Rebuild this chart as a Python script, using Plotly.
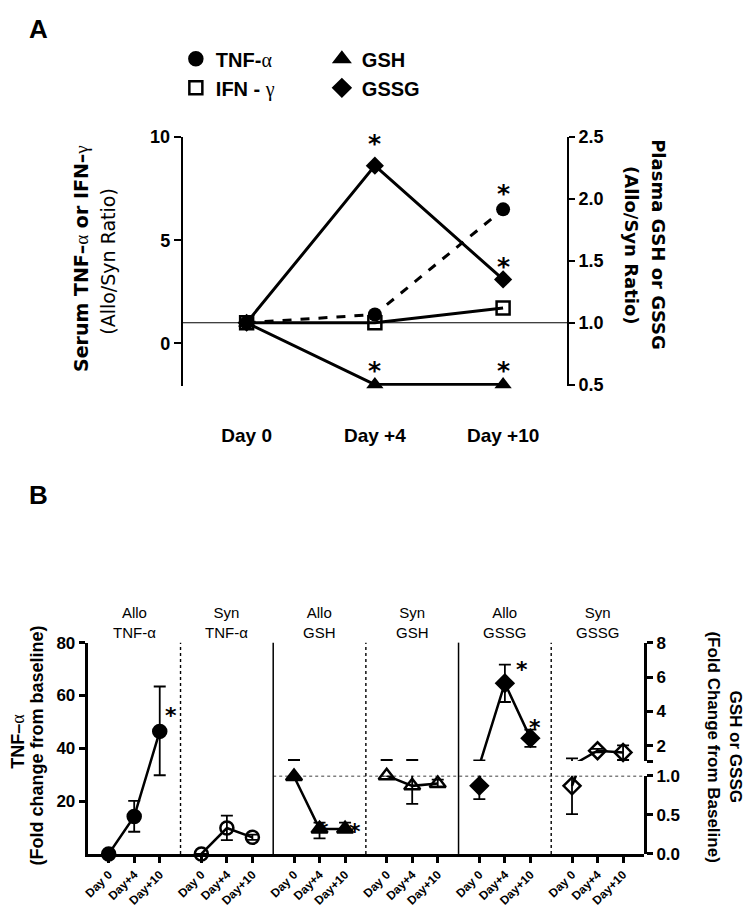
import plotly.graph_objects as go

# ---------------- Panel A: Allo/Syn ratio ----------------
days_a = ["Day 0", "Day +4", "Day +10"]
tnf_ratio = [1.0, 1.4, 6.5]
ifn_ratio = [1.0, 1.0, 1.72]
gsh_ratio = [1.0, 0.5, 0.5]
gssg_ratio = [1.0, 2.27, 1.35]
# significance marks in panel A: (series, day index)
stars_a = [("GSSG", 1), ("TNF", 2), ("GSSG", 2), ("GSH", 1), ("GSH", 2)]

# ---------------- Panel B: fold change from baseline ----------------
days_b = ["Day 0", "Day+4", "Day+10"]
group_titles = ["Allo<br>TNF-α", "Syn<br>TNF-α", "Allo<br>GSH",
                "Syn<br>GSH", "Allo<br>GSSG", "Syn<br>GSSG"]

allo_tnf = [0.0, 14.2, 46.4]
allo_tnf_hi = [0.0, 20.1, 63.4]
allo_tnf_lo = [0.0, 8.4, 29.8]
syn_tnf = [0.0, 9.8, 6.3]
syn_tnf_hi = [0.0, 14.5, 7.3]
syn_tnf_lo = [0.0, 5.2, 5.3]

allo_gsh = [0.99, 0.32, 0.32]
allo_gsh_hi = [1.18, 0.40, 0.40]
allo_gsh_lo = [0.99, 0.20, 0.32]
syn_gsh = [1.0, 0.87, 0.90]
syn_gsh_hi = [1.18, 1.18, 0.95]
syn_gsh_lo = [1.0, 0.64, 0.86]

allo_gssg = [0.87, 5.64, 2.45]
allo_gssg_hi = [1.15, 6.72, 2.94]
allo_gssg_lo = [0.70, 4.55, 1.94]
syn_gssg = [0.87, 1.72, 1.62]
syn_gssg_hi = [1.27, 1.82, 2.03]
syn_gssg_lo = [0.51, 1.62, 1.18]

# significance marks in panel B: (group index, day index)
stars_b = [(0, 2), (2, 1), (2, 2), (4, 1), (4, 2)]

# ---------------- layout helpers ----------------
W, H = 748, 920


def px(x):
    return x / W


def py(y):
    return 1 - y / H


ARIAL = "Liberation Sans, Arial, sans-serif"
VERD = "DejaVu Sans, Verdana, sans-serif"


def greek(ch):
    return '<span style="font-family:Liberation Serif;font-weight:normal">' + ch + '</span>'


def label(x, y, text, size, angle=0, family=ARIAL):
    return dict(x=px(x), y=py(y), xref="paper", yref="paper", text=text, textangle=angle,
                showarrow=False, xanchor="center", yanchor="middle",
                font=dict(family=family, size=size, color="black"))


fig = go.Figure()

# ---------------- Panel A traces ----------------
xa = [0, 1, 2]
fig.add_trace(go.Scatter(x=xa, y=tnf_ratio, xaxis="x", yaxis="y", mode="lines+markers",
                         line=dict(color="black", width=3, dash="dash"),
                         marker=dict(symbol="circle", size=14, color="black"),
                         cliponaxis=False, showlegend=False))
fig.add_trace(go.Scatter(x=xa, y=ifn_ratio, xaxis="x", yaxis="y", mode="lines+markers",
                         line=dict(color="black", width=3),
                         marker=dict(symbol="square-open", size=13, color="black",
                                     line=dict(width=2.5, color="black")),
                         cliponaxis=False, showlegend=False))
fig.add_trace(go.Scatter(x=xa, y=gsh_ratio, xaxis="x", yaxis="y2", mode="lines+markers",
                         line=dict(color="black", width=3),
                         marker=dict(symbol="triangle-up", size=15, color="black"),
                         cliponaxis=False, showlegend=False))
fig.add_trace(go.Scatter(x=xa, y=gssg_ratio, xaxis="x", yaxis="y2", mode="lines+markers",
                         line=dict(color="black", width=3),
                         marker=dict(symbol="diamond", size=14, color="black"),
                         cliponaxis=False, showlegend=False))

# legend entries (markers only, as in the original)
legend_items = [
    ("<b>TNF-</b>" + greek("α"), "circle", "legend"),
    ("<b>IFN - </b>" + greek("γ"), "square-open", "legend"),
    ("<b>GSH</b>", "triangle-up", "legend2"),
    ("<b>GSSG</b>", "diamond", "legend2"),
]
for i, (name, sym, lg) in enumerate(legend_items):
    fig.add_trace(go.Scatter(x=[None], y=[None], xaxis="x", yaxis="y", mode="markers", name=name,
                             marker=dict(symbol=sym, size=13, color="black",
                                         line=dict(width=2.5, color="black")),
                             legend=lg, legendgroup="g%d" % i))

ratio_of = {"TNF": (tnf_ratio, "y"), "IFN": (ifn_ratio, "y"),
            "GSH": (gsh_ratio, "y2"), "GSSG": (gssg_ratio, "y2")}
star_lift_a = [22, 16, 13, 14, 14]

annotations = []
for (s, d), lift in zip(stars_a, star_lift_a):
    vals, yax = ratio_of[s]
    annotations.append(dict(x=d, y=vals[d], xref="x", yref=yax, text="<b>*</b>", showarrow=False,
                            font=dict(family=VERD, size=25, color="black"), yshift=lift))

# ---------------- Panel B traces ----------------
step = 3.63
series_b = [(allo_tnf, allo_tnf_hi, allo_tnf_lo), (syn_tnf, syn_tnf_hi, syn_tnf_lo),
            (allo_gsh, allo_gsh_hi, allo_gsh_lo), (syn_gsh, syn_gsh_hi, syn_gsh_lo),
            (allo_gssg, allo_gssg_hi, allo_gssg_lo), (syn_gssg, syn_gssg_hi, syn_gssg_lo)]
symbols_b = ["circle", "circle-open", "triangle-up", "triangle-up-open", "diamond", "diamond-open"]
sizes_b = [13, 13, 14, 14, 13, 13]
right_axis = [False, False, True, True, True, True]

LOW_RANGE = [0, 1]
HIGH_RANGE = [1.12, 8]

xb_all = []
for g, (vals, hi, lo) in enumerate(series_b):
    xs = [g * step + i for i in range(3)]
    xb_all += xs
    err = dict(type="data", symmetric=False,
               array=[h - v for h, v in zip(hi, vals)],
               arrayminus=[v - l for v, l in zip(vals, lo)],
               color="black", thickness=1.8, width=6)
    mk = dict(symbol=symbols_b[g], size=sizes_b[g], color="black",
              line=dict(width=2.5, color="black"))
    if not right_axis[g]:
        fig.add_trace(go.Scatter(x=xs, y=vals, xaxis="x2", yaxis="y3", mode="lines+markers",
                                 line=dict(color="black", width=2.5), marker=mk, error_y=err,
                                 cliponaxis=False, showlegend=False))
    else:
        # broken right axis: lines/error bars clipped inside each segment
        for yax in ("y4", "y5"):
            fig.add_trace(go.Scatter(x=xs, y=vals, xaxis="x2", yaxis=yax, mode="lines",
                                     line=dict(color="black", width=2.5), error_y=err,
                                     showlegend=False))
        low = [v if v <= 1.0 else None for v in vals]
        high = [v if v > 1.0 else None for v in vals]
        fig.add_trace(go.Scatter(x=xs, y=low, xaxis="x2", yaxis="y6", mode="markers",
                                 marker=mk, cliponaxis=False, showlegend=False))
        fig.add_trace(go.Scatter(x=xs, y=high, xaxis="x2", yaxis="y7", mode="markers",
                                 marker=mk, cliponaxis=False, showlegend=False))

# asterisks for panel B: pixel offsets from the point
star_shift_b = [(11, 16), (3, -2), (10, -3), (17, 14), (5, 11)]
for (g, d), (dx, dy) in zip(stars_b, star_shift_b):
    v = series_b[g][0][d]
    if not right_axis[g]:
        yax = "y3"
    else:
        yax = "y4" if v <= 1.0 else "y5"
    annotations.append(dict(x=g * step + d, y=v, xref="x2", yref=yax, text="<b>*</b>",
                            showarrow=False, font=dict(family=VERD, size=22, color="black"),
                            xshift=dx, yshift=dy))

# group titles
for g, t in enumerate(group_titles):
    annotations.append(dict(x=g * step + 1, y=py(646.7), xref="x2", yref="paper", text=t,
                            showarrow=False, xanchor="center", yanchor="bottom", yshift=0,
                            font=dict(family=ARIAL, size=15, color="black")))

# separators between groups
shapes = []
seps = [g * step + 2 + (step - 2) / 2 for g in range(5)]
for g, sx in enumerate(seps):
    shapes.append(dict(type="line", xref="x2", yref="y3 domain", x0=sx, x1=sx, y0=0, y1=1,
                       line=dict(color="black", width=1.5 if g in (1, 3) else 1.4,
                                 dash="solid" if g in (1, 3) else "dot")))
xb_max = 5 * step + 2 + 0.82
shapes.append(dict(type="line", xref="x2", yref="y4", x0=seps[1], x1=xb_max, y0=1, y1=1,
                   line=dict(color="black", width=1.4, dash="dot")))
# panel A baseline at ratio 1.0
shapes.append(dict(type="line", xref="x domain", yref="y2", x0=0, x1=1, y0=1, y1=1,
                   line=dict(color="black", width=1)))

# axis titles and panel letters
annotations += [
    label(34, 19, "<b>A</b>", 26),
    label(34, 496, "<b>B</b>", 26),
    label(77, 254, "<b>Serum TNF–</b>" + greek("α") + "<b> or IFN–</b>" + greek("γ"), 19, -90, VERD),
    label(104, 257, "(Allo/Syn Ratio)", 19, -90, VERD),
    label(658, 240, "<b>Plasma GSH or GSSG</b>", 18, 90, VERD),
    label(630, 241, "<b>(Allo/Syn Ratio)</b>", 18, 90, VERD),
    label(13, 747, "<b>TNF–</b>" + greek("α"), 18, -90),
    label(32, 752, "<b>(Fold change from baseline)</b>", 18, -90),
    label(735, 753, "<b>GSH or GSSG</b>", 17, 90),
    label(713, 753, "<b>(Fold Change from Baseline)</b>", 17, 90),
]

tick_a = dict(family=ARIAL, size=18, color="black", weight="bold")
tick_b = dict(family=ARIAL, size=17, color="black", weight="bold")
common = dict(showgrid=False, zeroline=False, linecolor="black", tickcolor="black")

fig.update_layout(
    width=W, height=H, margin=dict(l=0, r=0, t=0, b=0),
    paper_bgcolor="white", plot_bgcolor="rgba(0,0,0,0)",
    annotations=annotations, shapes=shapes,
    legend=dict(x=px(172), y=py(30), xanchor="left", yanchor="top", bgcolor="rgba(0,0,0,0)",
                font=dict(family=ARIAL, size=20, color="black"), tracegroupgap=0),
    legend2=dict(x=px(319), y=py(30), xanchor="left", yanchor="top", bgcolor="rgba(0,0,0,0)",
                 font=dict(family=ARIAL, size=20, color="black"), tracegroupgap=0),
    # panel A (ranges padded a hair so the GSH line at 0.5 is not clipped)
    xaxis=dict(domain=[px(178.7), px(566)], anchor="y", range=[-0.5, 2.5], tickvals=xa,
               ticktext=days_a, showline=False, ticks="", ticklabelstandoff=36,
               tickfont=dict(family=ARIAL, size=19, color="black", weight="bold"), **common),
    yaxis=dict(domain=[py(384), py(130)], anchor="x", range=[-2.05, 10], tickvals=[0, 5, 10],
               showline=True, linewidth=1.5, ticks="outside", ticklen=7, tickwidth=1.5,
               tickfont=tick_a, **common),
    yaxis2=dict(overlaying="y", side="right", anchor="x", range=[0.5 - 0.05 / 6, 2.5],
                tickvals=[0.5, 1.0, 1.5, 2.0, 2.5], tickformat=".1f",
                showline=True, linewidth=1.5, ticks="outside", ticklen=6, tickwidth=1.5,
                tickfont=tick_a, **common),
    # panel B
    xaxis2=dict(domain=[px(83.3), px(643.3)], anchor="y3", range=[-0.82, xb_max],
                tickvals=xb_all, ticktext=days_b * 6, tickangle=-45, showline=True, linewidth=3,
                ticks="outside", ticklen=6, tickwidth=2.5,
                tickfont=dict(family=ARIAL, size=12, color="black", weight="bold"), **common),
    yaxis3=dict(domain=[py(862.7), py(646.7)], anchor="x2", range=[0, 80], tickvals=[20, 40, 60, 80],
                showline=True, linewidth=3, ticks="outside", ticklen=6, tickwidth=3,
                tickfont=tick_b, **common),
    yaxis4=dict(domain=[py(862.7), py(782.7)], anchor="x2", side="right", range=LOW_RANGE,
                tickvals=[0, 0.5, 1.0], tickformat=".1f", showline=True, linewidth=3,
                ticks="outside", ticklen=6, tickwidth=3, tickfont=tick_b, **common),
    yaxis5=dict(domain=[py(767.7), py(646.7)], anchor="x2", side="right", range=HIGH_RANGE,
                tickvals=[HIGH_RANGE[0], 2, 4, 6, 8], ticktext=["", "2", "4", "6", "8"],
                showline=True, linewidth=3, ticks="outside", ticklen=6, tickwidth=3,
                tickfont=tick_b, **common),
    yaxis6=dict(overlaying="y4", range=LOW_RANGE, visible=False),
    yaxis7=dict(overlaying="y5", range=HIGH_RANGE, visible=False),
)

# drop the browser's default 8px page margin so the figure sits at the window origin
fig.write_html("out.html", config={"displayModeBar": False},
               post_script="document.body.style.margin='0';")
